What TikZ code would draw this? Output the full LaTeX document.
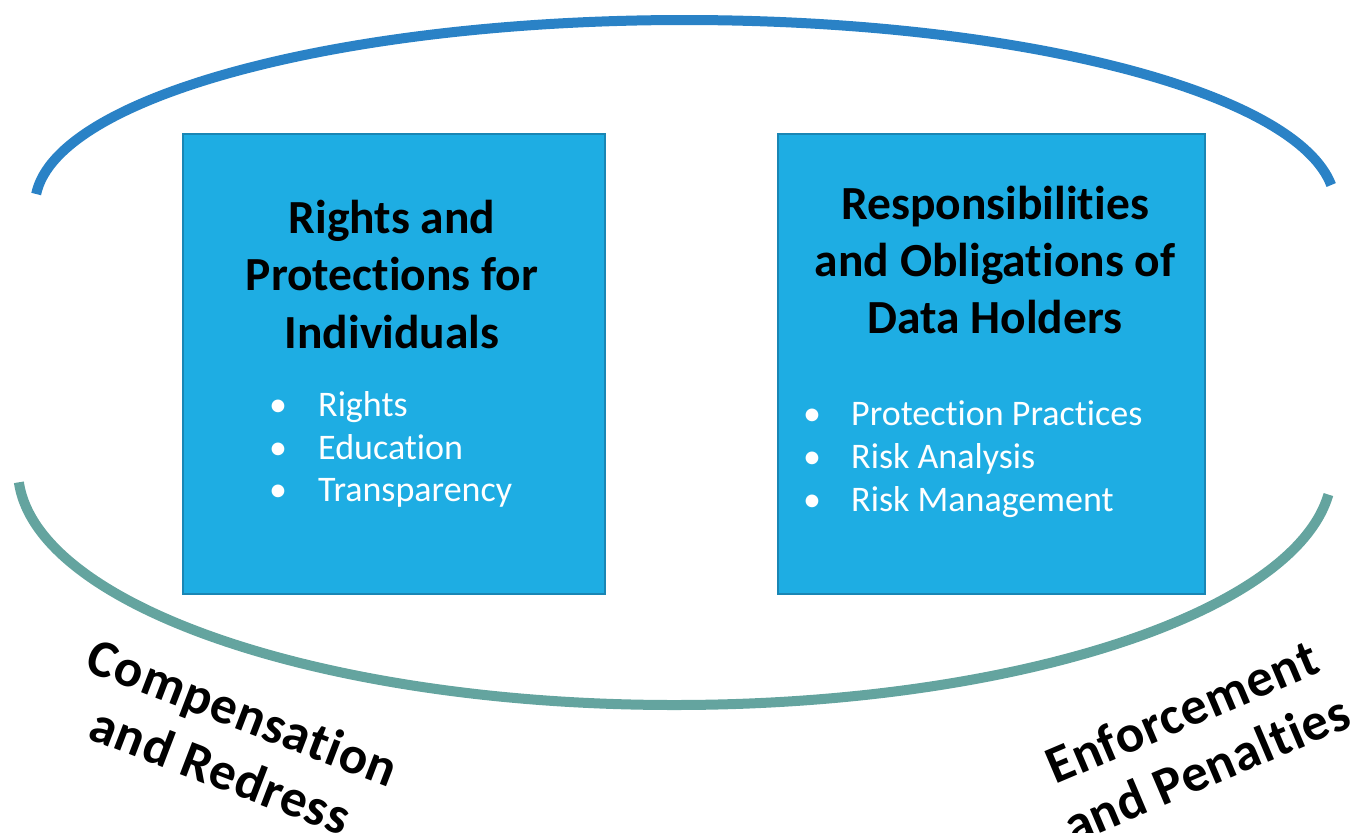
\documentclass[tikz,border=0pt]{standalone}
\usepackage{fontspec}
\setmainfont{Carlito}[Ligatures={NoCommon}]
\definecolor{boxfill}{HTML}{1EADE3}
\definecolor{boxline}{HTML}{1A86B4}
\definecolor{toparc}{HTML}{2A82C6}
\definecolor{botarc}{HTML}{64A49F}
\tikzset{
  panel/.style={draw=boxline, line width=2pt, fill=boxfill, inner sep=0pt},
  titleline/.style={font=\fontsize{47.5}{57}\selectfont\bfseries, text=black, anchor=base, inner sep=0pt},
  itemline/.style={font=\fontsize{36}{43}\selectfont, text=white, anchor=base west, inner sep=0pt},
  dotline/.style={font=\fontsize{36}{43}\selectfont, text=white, anchor=base, inner sep=0pt},
  sidelabel/.style={font=\fontsize{53}{62}\selectfont\bfseries\addfontfeatures{LetterSpace=1.5}, text=black, align=center, inner sep=0pt},
  arcline/.style={line width=10pt}
}
\begin{document}
\begin{tikzpicture}[x=1pt,y=-1pt]
\useasboundingbox (0,0) rectangle (1350,833);
% arcs
\coordinate (tc) at (685,205);
\coordinate (bc) at (675,470);
\draw[arcline, toparc] (tc) ++(183.4:650 and 185) arc[start angle=183.4, end angle=353.8, x radius=650, y radius=185];
\draw[arcline, botarc] (bc) ++(183:657 and -235) arc[start angle=183, end angle=354, x radius=657, y radius=-235];
% boxes
\node[panel, minimum width=422pt, minimum height=460pt, anchor=north west] (left) at (182,133) {};
\node[panel, minimum width=427pt, minimum height=460pt, anchor=north west] (right) at (777,133) {};
% left titles
\node[titleline] (l1) at (392,233) {Rights and};
\node[titleline] (l2) at (392,290) {Protections for};
\node[titleline] (l3) at (392,348) {Individuals};
\node[dotline] (lb1) at (278,416) {•};
\node[dotline] (lb2) at (278,459) {•};
\node[dotline] (lb3) at (278,501) {•};
\node[itemline] (li1) at (318,416) {Rights};
\node[itemline] (li2) at (318,459) {Education};
\node[itemline] (li3) at (318,501) {Transparency};
% right titles
\node[titleline] (r1) at (995,219) {Responsibilities};
\node[titleline] (r2) at (995,276) {and Obligations of};
\node[titleline] (r3) at (995,333) {Data Holders};
\node[dotline] (rb1) at (812,425) {•};
\node[dotline] (rb2) at (812,468) {•};
\node[dotline] (rb3) at (812,511) {•};
\node[itemline] (ri1) at (851,425) {Protection Practices};
\node[itemline] (ri2) at (851,468) {Risk Analysis};
\node[itemline] (ri3) at (851,511) {Risk Management};
% side labels
\node[sidelabel, rotate=-21] (comp) at (232,741) {Compensation\\and Redress};
\node[sidelabel, rotate=23] (enf) at (1194,740) {Enforcement\\and Penalties};
\end{tikzpicture}
\end{document}
